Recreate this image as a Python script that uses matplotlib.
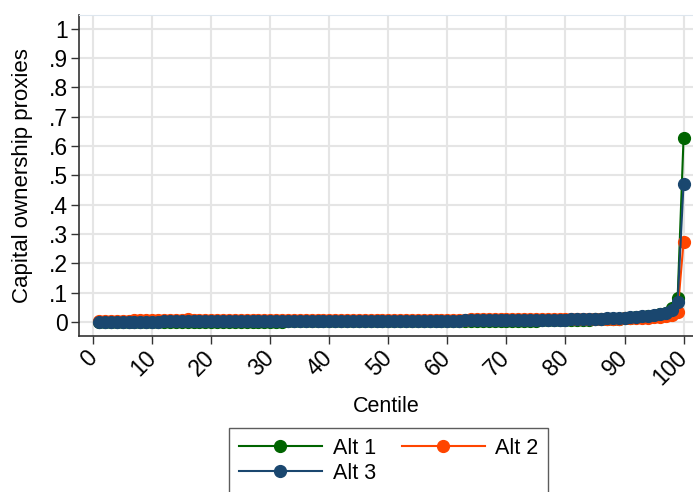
import numpy as np
import matplotlib.pyplot as plt

plt.rcParams['font.family'] = ['Liberation Sans', 'DejaVu Sans']

# centiles and the three capital ownership proxies
centile = list(range(1, 101))

alt1 = [0.0000, 0.0000, 0.0001, 0.0001, 0.0002, 0.0002, 0.0003, 0.0003, 0.0004, 0.0004,
        0.0005, 0.0005, 0.0006, 0.0006, 0.0007, 0.0007, 0.0008, 0.0008, 0.0009, 0.0009,
        0.0010, 0.0010, 0.0011, 0.0011, 0.0012, 0.0012, 0.0013, 0.0013, 0.0014, 0.0014,
        0.0015, 0.0015, 0.0016, 0.0016, 0.0017, 0.0017, 0.0018, 0.0018, 0.0019, 0.0019,
        0.0020, 0.0020, 0.0021, 0.0021, 0.0022, 0.0022, 0.0023, 0.0023, 0.0024, 0.0024,
        0.0025, 0.0025, 0.0026, 0.0026, 0.0027, 0.0027, 0.0028, 0.0028, 0.0029, 0.0030,
        0.0030, 0.0031, 0.0032, 0.0033, 0.0034, 0.0035, 0.0036, 0.0037, 0.0038, 0.0039,
        0.0040, 0.0042, 0.0044, 0.0046, 0.0048, 0.0050, 0.0053, 0.0056, 0.0059, 0.0062,
        0.0066, 0.0070, 0.0075, 0.0080, 0.0086, 0.0093, 0.0100, 0.0108, 0.0117, 0.0128,
        0.0140, 0.0155, 0.0172, 0.0192, 0.0218, 0.0255, 0.0320, 0.0460, 0.0830, 0.6270]

alt2 = [0.0030, 0.0035, 0.0040, 0.0042, 0.0045, 0.0047, 0.0050, 0.0052, 0.0053, 0.0055,
        0.0056, 0.0057, 0.0058, 0.0059, 0.0062, 0.0105, 0.0063, 0.0062, 0.0063, 0.0064,
        0.0068, 0.0066, 0.0072, 0.0067, 0.0068, 0.0069, 0.0070, 0.0068, 0.0074, 0.0070,
        0.0071, 0.0072, 0.0071, 0.0073, 0.0074, 0.0073, 0.0075, 0.0074, 0.0076, 0.0075,
        0.0076, 0.0077, 0.0076, 0.0078, 0.0077, 0.0078, 0.0079, 0.0078, 0.0079, 0.0080,
        0.0080, 0.0081, 0.0080, 0.0081, 0.0082, 0.0081, 0.0082, 0.0083, 0.0082, 0.0083,
        0.0084, 0.0083, 0.0084, 0.0085, 0.0085, 0.0086, 0.0086, 0.0087, 0.0087, 0.0088,
        0.0088, 0.0089, 0.0090, 0.0090, 0.0091, 0.0092, 0.0093, 0.0094, 0.0095, 0.0096,
        0.0097, 0.0099, 0.0101, 0.0103, 0.0105, 0.0108, 0.0111, 0.0114, 0.0118, 0.0122,
        0.0127, 0.0133, 0.0140, 0.0150, 0.0162, 0.0180, 0.0205, 0.0245, 0.0340, 0.2740]

alt3 = [0.0000, 0.0003, 0.0005, 0.0007, 0.0008, 0.0010, 0.0011, 0.0012, 0.0013, 0.0014,
        0.0015, 0.0016, 0.0017, 0.0018, 0.0019, 0.0020, 0.0021, 0.0022, 0.0023, 0.0024,
        0.0025, 0.0025, 0.0026, 0.0027, 0.0027, 0.0028, 0.0029, 0.0029, 0.0030, 0.0031,
        0.0031, 0.0032, 0.0032, 0.0033, 0.0034, 0.0034, 0.0035, 0.0035, 0.0036, 0.0036,
        0.0037, 0.0037, 0.0038, 0.0038, 0.0039, 0.0039, 0.0040, 0.0040, 0.0041, 0.0041,
        0.0042, 0.0042, 0.0043, 0.0043, 0.0044, 0.0044, 0.0045, 0.0046, 0.0046, 0.0047,
        0.0048, 0.0049, 0.0050, 0.0051, 0.0052, 0.0053, 0.0054, 0.0055, 0.0056, 0.0058,
        0.0059, 0.0061, 0.0063, 0.0065, 0.0067, 0.0069, 0.0072, 0.0075, 0.0078, 0.0082,
        0.0086, 0.0090, 0.0095, 0.0100, 0.0106, 0.0112, 0.0119, 0.0127, 0.0136, 0.0147,
        0.0160, 0.0175, 0.0192, 0.0212, 0.0238, 0.0272, 0.0320, 0.0400, 0.0680, 0.4720]

series = [("Alt 1", alt1, "#006400"), ("Alt 2", alt2, "#ff4500"), ("Alt 3", alt3, "#1a476f")]

fig = plt.figure(figsize=(6.93, 4.92), dpi=100)
ax = fig.add_axes([0.114, 0.317, 0.886, 0.653])

lines = {}
for name, vals, col in series:
    lines[name], = ax.plot(centile, vals, color=col, lw=1.5, marker="o", ms=8.5, label=name)

ax.set_xlim(-2.4, 101.6)
ax.set_ylim(-0.048, 1.048)
ax.set_xticks(np.arange(0, 101, 10))
ax.set_yticks(np.arange(0, 1.01, 0.1))
ax.set_yticklabels(["0", ".1", ".2", ".3", ".4", ".5", ".6", ".7", ".8", ".9", "1"])
ax.tick_params(axis="both", labelsize=16.5, length=6, width=1, color="#333333")
ax.tick_params(axis="y", pad=2)
plt.setp(ax.get_xticklabels(), rotation=45, ha="right", va="center", rotation_mode="anchor")
ax.tick_params(axis="x", pad=7)
ax.grid(True, color="#e5e5e5", lw=1.5)
ax.set_axisbelow(True)

for s in ["left", "bottom"]:
    ax.spines[s].set_color("#333333")
    ax.spines[s].set_linewidth(1.2)
ax.spines["top"].set_color("#dde6ee")
ax.spines["right"].set_visible(False)

ax.set_xlabel("Centile", fontsize=15.5, labelpad=5)
ax.set_ylabel("Capital ownership proxies", fontsize=16, labelpad=11)

# row-wise legend: Alt 1, Alt 2 on top, Alt 3 below
order = ["Alt 1", "Alt 3", "Alt 2"]
leg = fig.legend([lines[k] for k in order], order, loc="upper center",
                 bbox_to_anchor=(0.561, 0.130), ncol=2, borderaxespad=0,
                 fontsize=15.5, handlelength=3.85, columnspacing=1.2, handletextpad=0.5,
                 fancybox=False, edgecolor="#333333", borderpad=0.45, labelspacing=0.2)
leg.get_frame().set_linewidth(1.0)

fig.savefig("out.png", dpi=100)
